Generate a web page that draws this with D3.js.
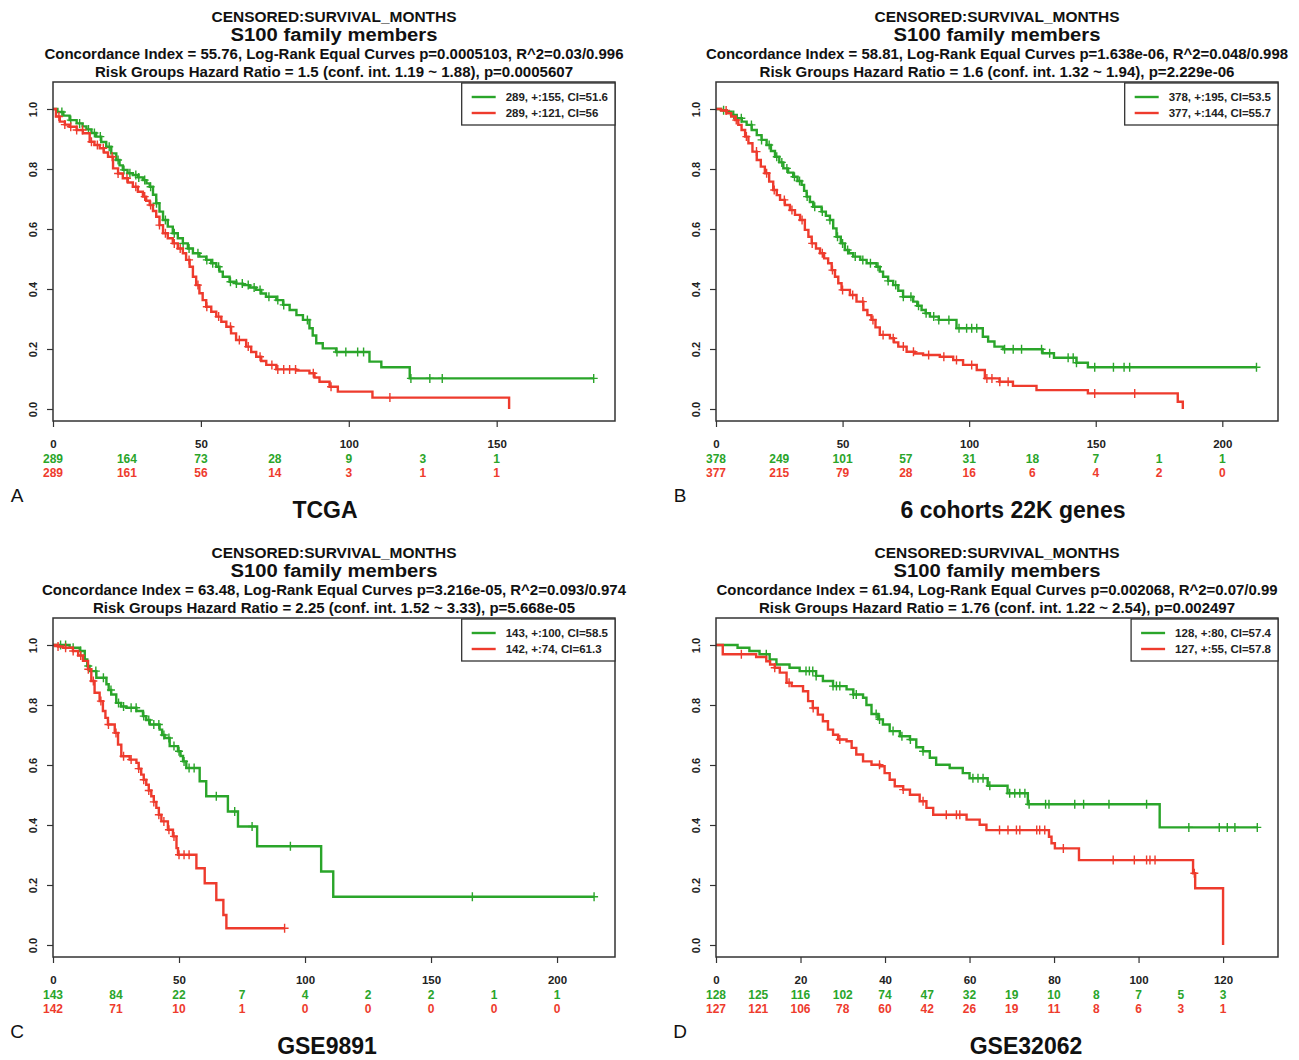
<!DOCTYPE html>
<html>
<head>
<meta charset="utf-8">
<script src="https://cdn.jsdelivr.net/npm/d3@7"></script>
<style>
  body { margin: 0; background: #fff; }
  text { font-family: "Liberation Sans", Arial, Helvetica, sans-serif; }
</style>
</head>
<body>
<div id="container"></div>
<script>
// ---- data: step points are [months, survival after the event] ----

// A: TCGA
const tcgaGreenSteps = [[0,1],[1.5,0.99],[3.5,0.978],[5.6,0.963],[8,0.952],[10,0.942],[11.3,0.932],[13,0.92],[14.6,0.908],[16.3,0.89],[18,0.874],[19.7,0.852],[21.4,0.83],[22.5,0.812],[23.6,0.797],[25.2,0.786],[27,0.78],[28.8,0.772],[30.4,0.763],[31.6,0.752],[32.7,0.741],[33.8,0.714],[34.9,0.686],[36,0.658],[37.2,0.63],[38.8,0.608],[40.5,0.586],[42.2,0.569],[43.9,0.552],[45.6,0.535],[47.3,0.519],[49.5,0.508],[51.8,0.497],[53.5,0.486],[55.2,0.474],[56.3,0.458],[57.4,0.441],[59.7,0.424],[62,0.418],[64.2,0.413],[66.5,0.405],[68.7,0.397],[70.4,0.385],[72,0.374],[75.5,0.363],[77.8,0.347],[80,0.33],[82.3,0.313],[84.5,0.297],[86.7,0.269],[87.8,0.245],[89,0.219],[91.2,0.202],[95.7,0.19],[107,0.158],[111,0.139],[120.6,0.102]];
const tcgaGreenCensor = [3,6,9,12,14,16,19,22,24,26,28,29,31,33,35,38,41,44,46,49,52,54,56,60,62,64,66,68,70,73,76,78,86,96,99,103,105,121,127.4,131.6,182.8];
const tcgaRedSteps = [[0,1],[1,0.975],[2.3,0.958],[4,0.948],[5.6,0.941],[8,0.93],[10.1,0.919],[12.4,0.891],[14,0.88],[15.8,0.869],[17.2,0.855],[18.6,0.841],[20.3,0.802],[22,0.785],[23.6,0.769],[25.3,0.755],[27,0.741],[28.7,0.724],[30.4,0.708],[31.5,0.694],[32.7,0.68],[33.8,0.66],[34.9,0.641],[36,0.613],[37.2,0.586],[38.8,0.569],[40.5,0.552],[42.2,0.535],[43.9,0.519],[45,0.497],[46.2,0.474],[47.3,0.441],[48.4,0.413],[49.5,0.386],[50.6,0.363],[51.8,0.341],[53.5,0.324],[55.2,0.308],[56.9,0.291],[58.6,0.274],[60.2,0.252],[61.9,0.23],[65.3,0.208],[67,0.19],[68.7,0.174],[70.4,0.16],[72.1,0.147],[75.5,0.132],[82.2,0.128],[86.7,0.119],[88.4,0.105],[90.1,0.091],[93.5,0.074],[96.3,0.058],[108,0.038],[154.2,0]];
const tcgaRedCensor = [2,4,6,8,10,13,15,17,20,22,25,28,31,33,36,38,41,43,46,49,52,56,60,63,66,70,74,76,78,80,82,88,94,113.9];
const tcgaRiskTimes = [0,25,50,75,100,125,150];
const tcgaRiskGreen = [289,164,73,28,9,3,1];
const tcgaRiskRed = [289,161,56,14,3,1,1];
const tcgaLegend = ["289, +:155, CI=51.6", "289, +:121, CI=56"];
const tcgaTitles = ["CENSORED:SURVIVAL_MONTHS", "S100 family members",
  "Concordance Index = 55.76, Log-Rank Equal Curves p=0.0005103, R^2=0.03/0.996",
  "Risk Groups Hazard Ratio = 1.5 (conf. int. 1.19 ~ 1.88), p=0.0005607"];

// B: 6 cohorts 22K genes
const cohortGreenSteps = [[0,1],[2,0.996],[4.2,0.991],[6.2,0.98],[8.2,0.969],[10.2,0.958],[12.1,0.947],[14.1,0.93],[16.1,0.913],[18,0.897],[20,0.88],[21.7,0.86],[23.3,0.841],[25,0.822],[26.6,0.802],[28.5,0.788],[30.5,0.774],[32.2,0.76],[33.8,0.747],[34.8,0.727],[35.8,0.708],[37.1,0.69],[38.4,0.674],[41.7,0.658],[43.4,0.644],[45,0.63],[46.3,0.602],[47.6,0.574],[49.3,0.552],[50.9,0.53],[52.5,0.519],[54.2,0.508],[57,0.497],[59.5,0.486],[63.4,0.474],[64.7,0.458],[66,0.441],[68,0.427],[70,0.413],[72,0.394],[73.9,0.374],[77.9,0.358],[79.5,0.344],[81.2,0.33],[82.8,0.319],[84.5,0.308],[88,0.297],[95,0.269],[105.4,0.241],[107.5,0.225],[110,0.208],[113.4,0.199],[129,0.186],[133.5,0.171],[142.4,0.154],[146.9,0.139]];
const cohortGreenCensor = [3,7,10,14,18,21,24,26,28,31,33,36,39,42,45,48,50,52,55,58,61,64,68,71,74,77,80,83,86,88,92,96,99,101,103,114,117.4,120.7,128.6,131.8,139.1,141.1,142.4,149.6,157,161.2,163.4,213.5];
const cohortRedSteps = [[0,1],[2,0.995],[4.2,0.986],[6,0.975],[7.5,0.963],[8.8,0.947],[10.1,0.93],[11.5,0.908],[12.8,0.886],[14.4,0.858],[16.1,0.83],[17.7,0.808],[19.3,0.786],[21,0.758],[22.6,0.73],[24,0.713],[25.3,0.697],[27.2,0.68],[29.2,0.663],[31.2,0.647],[33.2,0.63],[35.1,0.597],[36.5,0.574],[37.8,0.552],[39.5,0.535],[41.1,0.519],[42.7,0.502],[44.3,0.486],[45.7,0.463],[47,0.441],[48.3,0.419],[49.6,0.397],[52.9,0.38],[55.5,0.358],[58.2,0.33],[59.8,0.313],[61.4,0.297],[63,0.272],[64.7,0.247],[68.7,0.236],[70.3,0.222],[72,0.208],[75.3,0.191],[78.5,0.185],[81.8,0.18],[88.4,0.174],[93.7,0.163],[97.6,0.147],[103,0.13],[106.2,0.102],[112,0.091],[117.3,0.077],[126.6,0.063],[146.9,0.052],[182.4,0.024],[184.4,0]];
const cohortRedCensor = [4,8,12,16,20,23,27,30,34,38,42,46,50,54,58,62,66,70,74,78,84,90,95,101,107,109,112.1,115.4,149.6,165.4];
const cohortRiskTimes = [0,25,50,75,100,125,150,175,200];
const cohortRiskGreen = [378,249,101,57,31,18,7,1,1];
const cohortRiskRed = [377,215,79,28,16,6,4,2,0];
const cohortLegend = ["378, +:195, CI=53.5", "377, +:144, CI=55.7"];
const cohortTitles = ["CENSORED:SURVIVAL_MONTHS", "S100 family members",
  "Concordance Index = 58.81, Log-Rank Equal Curves p=1.638e-06, R^2=0.048/0.998",
  "Risk Groups Hazard Ratio = 1.6 (conf. int. 1.32 ~ 1.94), p=2.229e-06"];

// C: GSE9891
const gse9891GreenSteps = [[0,1],[6.6,0.991],[10.6,0.98],[12.6,0.952],[13.6,0.93],[14.5,0.913],[17.2,0.891],[21.2,0.869],[22.1,0.85],[23.1,0.835],[25.1,0.807],[27,0.795],[29.1,0.791],[33.1,0.78],[35.7,0.763],[37,0.75],[38.4,0.735],[42.3,0.718],[43.3,0.7],[44.3,0.69],[46.3,0.663],[49.6,0.646],[50.6,0.63],[51.6,0.612],[52.9,0.59],[58.2,0.546],[60.8,0.496],[69.4,0.445],[73.4,0.395],[81,0.329],[106.4,0.245],[111.2,0.161]];
const gse9891GreenCensor = [3,5,8,11,14,17,20,23,26,28,31,33,36,38,40,42,44,46,48,50,52,54,56,64.8,72.1,79,94.2,166.4,214.7];
const gse9891RedSteps = [[0,1],[2,0.995],[4,0.991],[7.9,0.98],[10,0.965],[11.9,0.947],[13.9,0.919],[15.2,0.88],[16.5,0.841],[18.5,0.813],[19.8,0.78],[20.8,0.757],[21.8,0.735],[24.5,0.707],[25.8,0.668],[27.1,0.629],[30.4,0.618],[33.1,0.607],[34,0.588],[35,0.568],[36,0.551],[37,0.534],[38,0.515],[39,0.496],[40,0.477],[41,0.457],[42,0.434],[43,0.412],[45.6,0.384],[47.6,0.362],[49,0.323],[49.6,0.301],[56.9,0.256],[60.2,0.206],[64.8,0.15],[67.6,0.1],[68.8,0.056]];
const gse9891RedCensor = [2,5,8,11,14,16,19,22,25,28,31,34,36,38,40,42,44,46,48,50,52,54,91.9];
const gse9891RiskTimes = [0,25,50,75,100,125,150,175,200];
const gse9891RiskGreen = [143,84,22,7,4,2,2,1,1];
const gse9891RiskRed = [142,71,10,1,0,0,0,0,0];
const gse9891Legend = ["143, +:100, CI=58.5", "142, +:74, CI=61.3"];
const gse9891Titles = ["CENSORED:SURVIVAL_MONTHS", "S100 family members",
  "Concordance Index = 63.48, Log-Rank Equal Curves p=3.216e-05, R^2=0.093/0.974",
  "Risk Groups Hazard Ratio = 2.25 (conf. int. 1.52 ~ 3.33), p=5.668e-05"];

// D: GSE32062
const gse32062GreenSteps = [[0,1],[5.1,0.991],[7.9,0.98],[10.3,0.969],[12.7,0.952],[14.3,0.935],[17.4,0.924],[19.8,0.913],[23.7,0.897],[25.3,0.88],[27.7,0.863],[30.9,0.852],[32.5,0.835],[34.8,0.824],[35.6,0.8],[36.8,0.77],[38.4,0.752],[39.5,0.735],[41.1,0.713],[43.5,0.696],[45.9,0.685],[47.4,0.659],[49,0.646],[50.6,0.624],[52.1,0.601],[55.3,0.59],[58.4,0.573],[60,0.556],[64.3,0.531],[69,0.506],[73.8,0.469],[105,0.392]];
const gse32062GreenCensor = [11.9,21.3,22.1,22.9,23.7,27.7,28.5,29.3,32.5,33.2,37.9,38.7,41.9,44,46,49,60.8,62,63.2,64.8,69.5,70.7,71.9,73.1,74.1,78,78.8,84.9,87,93,101.9,111.9,119.1,121,122.8,128.1];
const gse32062RedSteps = [[0,1],[1.6,0.969],[9.5,0.96],[11.9,0.946],[12.8,0.935],[13.9,0.924],[15.1,0.908],[16.7,0.874],[17.9,0.863],[20.6,0.846],[21.8,0.813],[22.9,0.79],[24.1,0.768],[25.3,0.746],[26.5,0.718],[27.7,0.701],[28.9,0.685],[30.9,0.679],[32.1,0.657],[33.2,0.635],[34.8,0.612],[36.8,0.601],[38.8,0.596],[39.9,0.573],[41.1,0.551],[42.3,0.529],[44.3,0.518],[45.9,0.501],[48.2,0.479],[49.8,0.457],[51.4,0.434],[59.3,0.418],[62.4,0.401],[64,0.383],[78.8,0.361],[79.4,0.339],[80.2,0.322],[85.9,0.283],[112.9,0.239],[113.4,0.189],[120,0]];
const gse32062RedCensor = [6,13.9,17.3,23,29.3,38.7,44.3,49,54.5,56.9,57.7,67.1,69.1,71.1,71.9,75.9,76.6,77.8,82.2,94,99,101.9,102.7,103.9,113.2];
const gse32062RiskTimes = [0,10,20,30,40,50,60,70,80,90,100,110,120];
const gse32062RiskGreen = [128,125,116,102,74,47,32,19,10,8,7,5,3];
const gse32062RiskRed = [127,121,106,78,60,42,26,19,11,8,6,3,1];
const gse32062Legend = ["128, +:80, CI=57.4", "127, +:55, CI=57.8"];
const gse32062Titles = ["CENSORED:SURVIVAL_MONTHS", "S100 family members",
  "Concordance Index = 61.94, Log-Rank Equal Curves p=0.002068, R^2=0.07/0.99",
  "Risk Groups Hazard Ratio = 1.76 (conf. int. 1.22 ~ 2.54), p=0.002497"];

const yTicks = [0, 0.2, 0.4, 0.6, 0.8, 1.0];

// ---- layout ----
const PLOT_W = 562, PLOT_H = 339;
const GREEN = "#2aa52a", RED = "#ee3b2d";

const panels = [
  { letter: "A", name: "TCGA", nameX: 325, left: 53, top: 82, xMax: 190, xTicks: [0,50,100,150],
    titles: tcgaTitles, lens: [245, 207, 579, 478], legend: tcgaLegend,
    green: { steps: tcgaGreenSteps, censor: tcgaGreenCensor }, red: { steps: tcgaRedSteps, censor: tcgaRedCensor },
    risk: { times: tcgaRiskTimes, green: tcgaRiskGreen, red: tcgaRiskRed } },
  { letter: "B", name: "6 cohorts 22K genes", nameX: 1013, left: 716, top: 82, xMax: 222, xTicks: [0,50,100,150,200],
    titles: cohortTitles, lens: [245, 207, 582, 475], legend: cohortLegend,
    green: { steps: cohortGreenSteps, censor: cohortGreenCensor }, red: { steps: cohortRedSteps, censor: cohortRedCensor },
    risk: { times: cohortRiskTimes, green: cohortRiskGreen, red: cohortRiskRed } },
  { letter: "C", name: "GSE9891", nameX: 327, left: 53, top: 618, xMax: 223, xTicks: [0,50,100,150,200],
    titles: gse9891Titles, lens: [245, 207, 584, 482], legend: gse9891Legend,
    green: { steps: gse9891GreenSteps, censor: gse9891GreenCensor }, red: { steps: gse9891RedSteps, censor: gse9891RedCensor },
    risk: { times: gse9891RiskTimes, green: gse9891RiskGreen, red: gse9891RiskRed } },
  { letter: "D", name: "GSE32062", nameX: 1026, left: 716, top: 618, xMax: 133, xTicks: [0,20,40,60,80,100,120],
    titles: gse32062Titles, lens: [245, 207, 561, 476], legend: gse32062Legend,
    green: { steps: gse32062GreenSteps, censor: gse32062GreenCensor }, red: { steps: gse32062RedSteps, censor: gse32062RedCensor },
    risk: { times: gse32062RiskTimes, green: gse32062RiskGreen, red: gse32062RiskRed } }
];

const svg = d3.select("#container").append("svg")
  .attr("width", 1299).attr("height", 1060)
  .style("background", "#fff");

function survAt(steps, t) {
  let s = steps[0][1];
  for (const [tt, v] of steps) { if (tt <= t) s = v; else break; }
  return s;
}

function drawCurve(g, x, y, curve, color) {
  const last = curve.steps[curve.steps.length - 1];
  const end = Math.max(last[0], d3.max(curve.censor));
  const pts = curve.steps.concat([[end, last[1]]]);
  g.append("path")
    .attr("d", d3.line().x(d => x(d[0])).y(d => y(d[1])).curve(d3.curveStepAfter)(pts))
    .attr("fill", "none").attr("stroke", color).attr("stroke-width", 2.4);
  g.append("g").selectAll("path").data(curve.censor).enter().append("path")
    .attr("d", t => {
      const cx = x(t), cy = y(survAt(curve.steps, t));
      return `M${cx - 4},${cy}h8M${cx},${cy - 4.5}v9`;
    })
    .attr("stroke", color).attr("stroke-width", 1.4).attr("fill", "none");
}

function drawPanel(p) {
  const x = d3.scaleLinear().domain([0, p.xMax]).range([0, PLOT_W]);
  const y = d3.scaleLinear().domain([-0.04, 1.09]).range([PLOT_H, 0]);
  const cx = p.left + PLOT_W / 2;

  // titles
  const tSizes = [14.5, 18, 14, 14];
  const tOffsets = [-60, -41, -23, -5];
  p.titles.forEach((t, i) => {
    svg.append("text").attr("x", cx).attr("y", p.top + tOffsets[i])
      .attr("text-anchor", "middle").attr("font-weight", "bold").attr("font-size", tSizes[i])
      .attr("textLength", p.lens[i]).attr("lengthAdjust", "spacingAndGlyphs")
      .attr("fill", "#111").text(t);
  });

  const g = svg.append("g").attr("transform", `translate(${p.left},${p.top})`);

  // y axis
  const ya = g.append("g").call(d3.axisLeft(y).tickValues(yTicks).tickSize(6).tickFormat(d3.format(".1f")));
  ya.select(".domain").remove();
  ya.selectAll("line").attr("stroke", "#333").attr("stroke-width", 1.2);
  ya.selectAll("text")
    .attr("x", null).attr("dy", null)
    .attr("transform", "translate(-20,0) rotate(-90)")
    .attr("dy", "0.36em")
    .attr("text-anchor", "middle")
    .attr("font-size", 11).attr("font-weight", "bold").attr("fill", "#222")
    .style("font-family", '"Liberation Sans", Arial, sans-serif');

  // x axis
  const xa = g.append("g").attr("transform", `translate(0,${PLOT_H})`)
    .call(d3.axisBottom(x).tickValues(p.xTicks).tickSize(6).tickPadding(13));
  xa.select(".domain").remove();
  xa.selectAll("line").attr("stroke", "#333").attr("stroke-width", 1.2);
  xa.selectAll("text").attr("font-size", 11.5).attr("font-weight", "bold").attr("fill", "#222")
    .style("font-family", '"Liberation Sans", Arial, sans-serif');

  // numbers at risk
  [[p.risk.green, GREEN, 42], [p.risk.red, RED, 56]].forEach(([vals, col, dy]) => {
    g.append("g").selectAll("text").data(vals).enter().append("text")
      .attr("x", (d, i) => x(p.risk.times[i])).attr("y", PLOT_H + dy)
      .attr("text-anchor", "middle").attr("font-size", 12).attr("font-weight", "bold")
      .attr("fill", col).text(d => d);
  });

  // curves
  drawCurve(g, x, y, p.green, GREEN);
  drawCurve(g, x, y, p.red, RED);

  // box
  g.append("rect").attr("width", PLOT_W).attr("height", PLOT_H)
    .attr("fill", "none").attr("stroke", "#333").attr("stroke-width", 1.5);

  // legend
  const leg = g.append("g");
  const texts = p.legend.map((t, i) => leg.append("text")
    .attr("y", 15 + i * 16).attr("dy", "0.35em")
    .attr("font-size", 11.5).attr("font-weight", "bold").attr("fill", "#222").text(t));
  const tw = d3.max(texts, t => t.node().getComputedTextLength());
  const textX = PLOT_W - 7 - tw;
  texts.forEach(t => t.attr("x", textX));
  [GREEN, RED].forEach((col, i) => {
    leg.append("line").attr("x1", textX - 34).attr("x2", textX - 10)
      .attr("y1", 15 + i * 16).attr("y2", 15 + i * 16)
      .attr("stroke", col).attr("stroke-width", 2.4);
  });
  leg.insert("rect", ":first-child")
    .attr("x", textX - 44).attr("y", 1).attr("width", PLOT_W - (textX - 44)).attr("height", 42)
    .attr("fill", "#fff").attr("stroke", "#333").attr("stroke-width", 1.3);

  // panel letter and dataset name
  svg.append("text").attr("x", p.left - 36).attr("y", p.top + PLOT_H + 81)
    .attr("text-anchor", "middle").attr("font-size", 19).attr("fill", "#111").text(p.letter);
  svg.append("text").attr("x", p.nameX).attr("y", p.top + PLOT_H + 97)
    .attr("text-anchor", "middle").attr("font-size", 23).attr("font-weight", "bold")
    .attr("fill", "#111").text(p.name);
}

panels.forEach(drawPanel);
</script>
</body>
</html>
